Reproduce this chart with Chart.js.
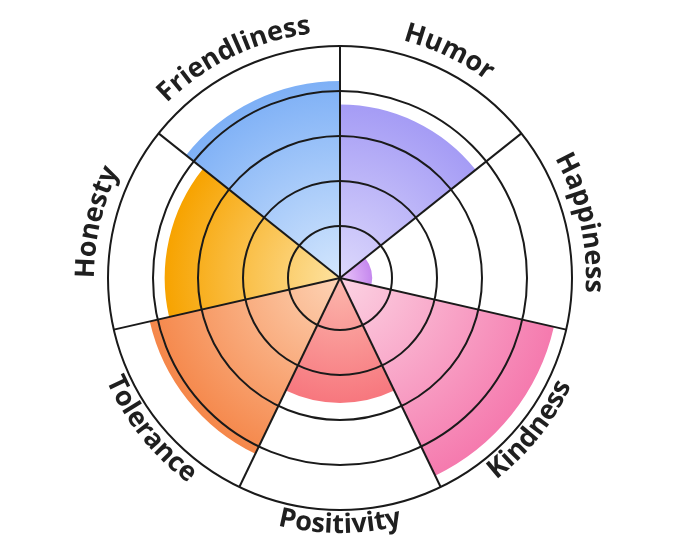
<!DOCTYPE html>
<html lang="en">
<head>
    <meta charset="UTF-8" />
    <title>Personality Polar Chart</title>
    <script src="https://cdn.jsdelivr.net/npm/chart.js"></script>
    <style>
        body {
            margin: 0;
            background: #ffffff;
        }
        .chart-box {
            width: 680px;
            height: 557px;
        }
    </style>
</head>
<body>
<div class="chart-box">
    <canvas id="traits"></canvas>
</div>

<script>
const categories = ['Humor', 'Happiness', 'Kindness', 'Positivity', 'Tolerance', 'Honesty', 'Friendliness'];
const scores = [3.7, 0.56, 4.72, 2.62, 4.18, 3.74, 4.22];
const ringTicks = [1, 2, 3, 4, 5];

// inner (near centre) and outer colour of each slice
const innerColors = ['#dcd8fc', '#ecc8fa', '#fcd3e3', '#fcb7ad', '#fdd3b5', '#fde2a0', '#d3e6fd'];
const outerColors = ['#a59cf5', '#c588ee', '#f57aae', '#f7777e', '#f5874a', '#f7a300', '#7eb0f6'];

function sliceFill(context) {
    const chart = context.chart;
    const scale = chart.scales.r;
    const i = context.dataIndex;
    if (!scale || !chart.chartArea || scale.xCenter === undefined) {
        return outerColors[i];
    }
    const r = Math.max(scale.getDistanceFromCenterForValue(scores[i]), 2);
    const g = chart.ctx.createRadialGradient(scale.xCenter, scale.yCenter, 0, scale.xCenter, scale.yCenter, r);
    g.addColorStop(0, innerColors[i]);
    g.addColorStop(1, outerColors[i]);
    return g;
}

// labels bent along the outer ring
const curvedLabels = {
    id: 'curvedLabels',
    afterDraw(chart) {
        const scale = chart.scales.r;
        const ctx = chart.ctx;
        const n = categories.length;
        const step = Math.PI * 2 / n;
        const R = scale.drawingArea;

        ctx.save();
        ctx.font = 'bold 27px "Open Sans"';
        ctx.fillStyle = '#1f1f1f';
        ctx.textAlign = 'center';
        ctx.textBaseline = 'alphabetic';

        categories.forEach((label, i) => {
            const mid = step * i + step / 2;
            const chars = label.split('');
            const widths = chars.map(c => ctx.measureText(c).width);
            const total = widths.reduce((a, b) => a + b, 0);
            const bottom = Math.cos(mid) < 0;
            const radius = bottom ? R + 23 : R + 14;
            let acc = 0;
            chars.forEach((c, k) => {
                const off = (acc + widths[k] / 2 - total / 2) / radius;
                const a = bottom ? mid - off : mid + off;
                const x = scale.xCenter + radius * Math.sin(a);
                const y = scale.yCenter - radius * Math.cos(a);
                ctx.save();
                ctx.translate(x, y);
                ctx.rotate(bottom ? a + Math.PI : a);
                ctx.fillText(c, 0, 0);
                ctx.restore();
                acc += widths[k];
            });
        });
        ctx.restore();
    }
};

new Chart(document.getElementById('traits'), {
    type: 'polarArea',
    data: {
        labels: categories,
        datasets: [{
            data: scores,
            backgroundColor: sliceFill,
            borderWidth: 0
        }]
    },
    options: {
        responsive: true,
        maintainAspectRatio: false,
        animation: false,
        layout: {
            padding: { top: 46, bottom: 47, left: 0, right: 0 }
        },
        plugins: {
            legend: { display: false },
            tooltip: { enabled: false }
        },
        scales: {
            r: {
                min: -0.1556,
                max: 5,
                afterBuildTicks: scale => {
                    scale.ticks = ringTicks.map(v => ({ value: v }));
                },
                ticks: { display: false },
                pointLabels: { display: false },
                grid: {
                    circular: true,
                    color: '#1a1a1a',
                    lineWidth: 2,
                    z: 1
                },
                angleLines: {
                    display: true,
                    color: '#1a1a1a',
                    lineWidth: 2
                }
            }
        }
    },
    plugins: [curvedLabels]
});
</script>
</body>
</html>
